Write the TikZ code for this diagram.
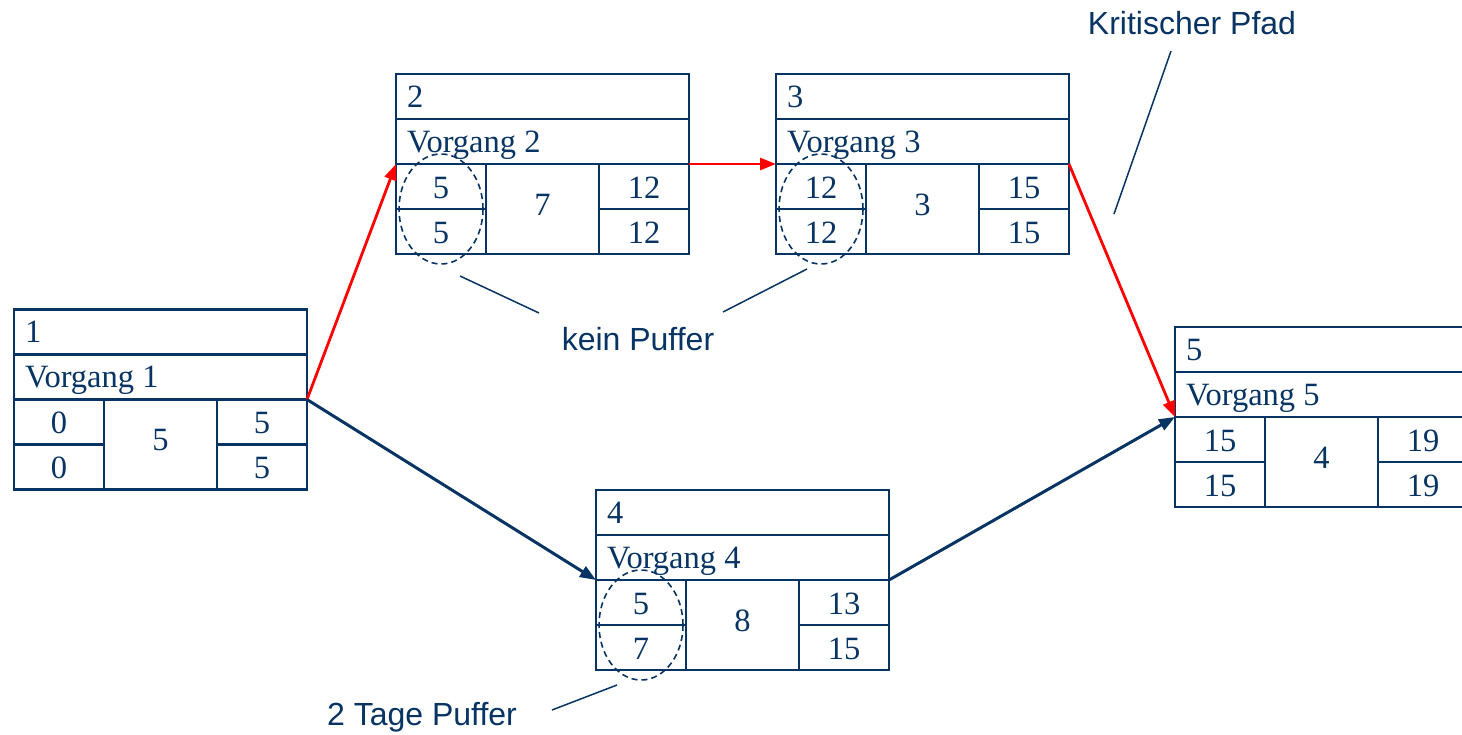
\documentclass[tikz,border=0pt]{standalone}
\usepackage{fontspec}
\setmainfont{Liberation Serif}
\newfontfamily\labelsans{Liberation Sans}
\usetikzlibrary{arrows.meta,shapes.geometric}
\definecolor{navy}{RGB}{8,52,100}
\definecolor{critred}{RGB}{255,0,0}
\tikzset{
  actbox/.style={draw=navy, line width=2.6pt, minimum width=293pt, minimum height=180pt, inner sep=0pt, outer sep=0pt},
  cellline/.style={draw=navy, line width=2.6pt},
  celltext/.style={text=navy, font=\fontsize{32.5}{38}\selectfont, inner sep=0pt},
  crit/.style={draw=critred, line width=2.8pt, -{Triangle[length=16pt,width=12pt]}},
  norm/.style={draw=navy, line width=3pt, -{Triangle[length=16pt,width=12pt]}},
  buffer/.style={ellipse, draw=navy, dash pattern=on 6pt off 4pt, line width=1.6pt, minimum width=84pt, minimum height=110pt, inner sep=0pt},
  lead/.style={draw=navy, line width=1.5pt},
  callout/.style={text=navy, font=\labelsans\fontsize{32}{38}\selectfont, inner sep=0pt}
}
% #1 name, #2 position, #3 id, #4 FAZ, #5 SAZ, #6 duration, #7 FEZ, #8 SEZ
\newcommand{\activity}[8]{%
  \node[actbox] (#1) at (#2) {};
  \draw[cellline] ([yshift=-45pt]#1.north west) -- ([yshift=-45pt]#1.north east);
  \draw[cellline] (#1.west) -- (#1.east);
  \draw[cellline] ([xshift=90pt]#1.west) -- ([xshift=90pt]#1.south west);
  \draw[cellline] ([xshift=-90pt]#1.east) -- ([xshift=-90pt]#1.south east);
  \draw[cellline] ([yshift=45pt]#1.south west) -- ([xshift=90pt,yshift=45pt]#1.south west);
  \draw[cellline] ([xshift=-90pt,yshift=45pt]#1.south east) -- ([yshift=45pt]#1.south east);
  \node[celltext, anchor=base west] (#1-id) at ([xshift=11pt,yshift=-33pt]#1.north west) {#3};
  \node[celltext, anchor=base west] (#1-name) at ([xshift=11pt,yshift=-78pt]#1.north west) {Vorgang #3};
  \node[celltext, anchor=base] (#1-faz) at ([xshift=45pt,yshift=-34pt]#1.west) {#4};
  \node[celltext, anchor=base] (#1-saz) at ([xshift=45pt,yshift=-79pt]#1.west) {#5};
  \node[celltext, anchor=base] (#1-dur) at ([xshift=146.5pt,yshift=-51pt]#1.west) {#6};
  \node[celltext, anchor=base] (#1-fez) at ([xshift=-45pt,yshift=-34pt]#1.east) {#7};
  \node[celltext, anchor=base] (#1-sez) at ([xshift=-45pt,yshift=-79pt]#1.east) {#8};
}
\begin{document}
\begin{tikzpicture}[x=1pt,y=-1pt]
  \path[use as bounding box, clip] (0,0) rectangle (1462,734);
  \fill[white] (0,0) rectangle (1462,734);

  \activity{n1}{160.5,399.5}{1}{0}{0}{5}{5}{5}
  \activity{n2}{542.5,164}{2}{5}{5}{7}{12}{12}
  \activity{n3}{922.5,164}{3}{12}{12}{3}{15}{15}
  \activity{n4}{742.5,580}{4}{5}{7}{8}{13}{15}
  \activity{n5}{1321.5,417}{5}{15}{15}{4}{19}{19}

  % buffer ellipses
  \node[buffer] (e2) at ([xshift=45pt,yshift=45pt]n2.south west) {};
  \node[buffer] (e3) at ([xshift=45pt,yshift=45pt]n3.south west) {};
  \node[buffer] (e4) at ([xshift=45pt,yshift=45pt]n4.south west) {};

  % connectors
  \draw[crit] (n1.east) -- (n2.west);
  \draw[crit] (n2.east) -- (n3.west);
  \draw[crit] (n3.east) -- (n5.west);
  \draw[norm] (n1.east) -- (n4.west);
  \draw[norm] (n4.east) -- (n5.west);

  % callouts
  \node[callout, anchor=base] (kp) at (638,350) {kein Puffer};
  \node[callout, anchor=base] (tp) at (422,725) {2 Tage Puffer};
  \node[callout, anchor=base] (cp) at (1192,34) {Kritischer Pfad};

  \coordinate (kp-a) at (460,276);
  \coordinate (kp-b) at (539,313);
  \coordinate (kp-c) at (723,312);
  \coordinate (kp-d) at (807,269);
  \coordinate (tp-a) at (552,710);
  \coordinate (tp-b) at (617,685);
  \coordinate (cp-a) at (1171,51);
  \coordinate (cp-b) at (1114,214);

  \draw[lead] (kp-a) -- (kp-b);
  \draw[lead] (kp-c) -- (kp-d);
  \draw[lead] (tp-a) -- (tp-b);
  \draw[lead] (cp-a) -- (cp-b);
\end{tikzpicture}
\end{document}
